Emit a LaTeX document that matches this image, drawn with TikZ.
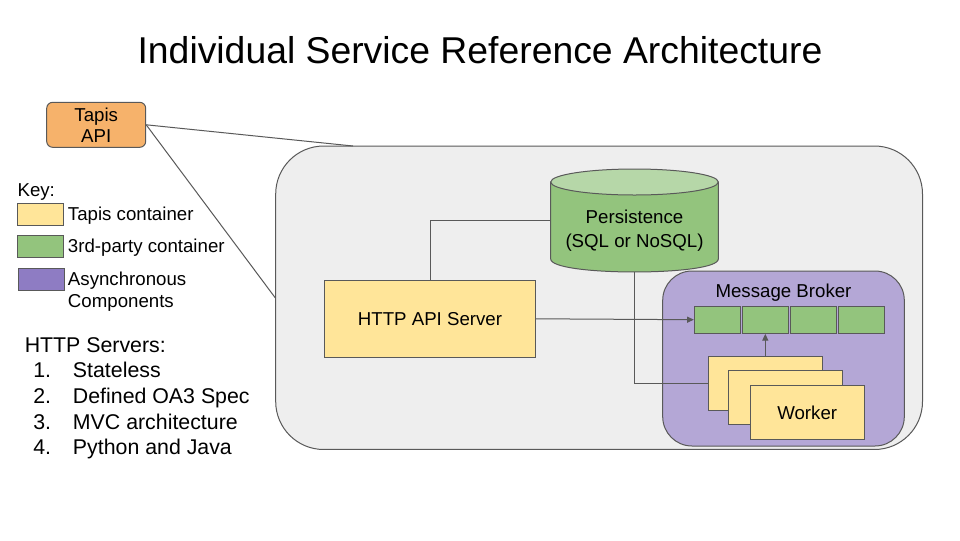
\documentclass[tikz,border=0pt]{standalone}
\usepackage{fontspec}
\setmainfont{Liberation Sans}
\usetikzlibrary{arrows.meta}
\definecolor{linegray}{HTML}{595959}
\definecolor{ctrgray}{HTML}{EEEEEE}
\definecolor{tapisorange}{HTML}{F6B26B}
\definecolor{tapisyellow}{HTML}{FFE599}
\definecolor{thirdgreen}{HTML}{93C47D}
\definecolor{topgreen}{HTML}{B6D7A8}
\definecolor{brokerlav}{HTML}{B4A7D6}
\definecolor{keypurple}{HTML}{8E7CC3}
\begin{document}
\begin{tikzpicture}[x=0.75pt,y=-0.75pt,
  box/.style={draw=linegray, line width=0.75pt, inner sep=0pt, font=\fontsize{14}{16}\selectfont},
  conn/.style={draw=linegray, line width=0.75pt},
  arr/.style={conn, -{Triangle[length=5pt,width=4.5pt]}},
  txt/.style={inner sep=0pt, font=\fontsize{14}{16}\selectfont},
  big/.style={inner sep=0pt, font=\fontsize{16}{19}\selectfont},
  cell/.style={box, fill=thirdgreen, minimum width=34.5pt, minimum height=20.5pt},
  worker/.style={box, fill=tapisyellow, minimum width=85.5pt, minimum height=40.1pt},
  swatch/.style={box, minimum width=34.8pt, minimum height=16.5pt}]
\useasboundingbox (0,0) rectangle (960,540);
\fill[white] (0,0) rectangle (960,540);

% title
\node[inner sep=0pt, anchor=base, font=\fontsize{28}{34}\selectfont] (title) at (480,63) {Individual Service Reference Architecture};

% big container
\node[box, fill=ctrgray, rounded corners=36pt, minimum width=485.1pt, minimum height=227.6pt] (ctr) at (599.1,297.75) {};

% Tapis API
\node[box, fill=tapisorange, rounded corners=4.5pt, minimum width=74.25pt, minimum height=33.75pt, align=center, font=\fontsize{14}{15.75}\selectfont] (tapis) at (96.2,124.8) {Tapis\\API};
\coordinate (z1) at (353,146);
\draw[conn] (tapis.east) -- (z1);
\draw[conn] (tapis.east) -- (ctr.west);

% Persistence cylinder
\node[inner sep=0pt, minimum width=125.7pt, minimum height=76.8pt] (pers) at (634.5,220.5) {};
\filldraw[conn, fill=thirdgreen] (550.7,182) -- (550.7,259) .. controls (550.7,276.3) and (718.3,276.3) .. (718.3,259) -- (718.3,182) -- cycle;
\filldraw[conn, fill=topgreen] (634.5,182) ellipse [x radius=62.85pt, y radius=9.75pt];
\node[txt, align=center, font=\fontsize{14}{18}\selectfont] (perslbl) at (634.5,230.5) {Persistence\\(SQL or NoSQL)};

% HTTP API server
\node[box, fill=tapisyellow, minimum width=158.55pt, minimum height=57.75pt] (http) at (430,318.8) {HTTP API Server};

% Message broker
\node[box, fill=brokerlav, rounded corners=22pt, minimum width=181.2pt, minimum height=131.25pt] (mb) at (783.5,358.5) {};
\node[txt, anchor=base] (mblbl) at (783.5,297.3) {Message Broker};
\node[cell] (c1) at (717.3,319.7) {};
\node[cell] (c2) at (765.3,319.7) {};
\node[cell] (c3) at (813.3,319.7) {};
\node[cell] (c4) at (861.3,319.7) {};

% workers
\node[worker] (w1) at (765.3,383.3) {};
\node[worker] (w2) at (785.3,397.5) {};
\node[worker] (w3) at (807.2,412.5) {Worker};

% connectors
\draw[conn] (http.north) |- (pers.west);
\draw[arr] (http.east) -- (c1.west);
\draw[arr] (w1.north) -- (c2.south);
\draw[conn] (pers.south) |- (w1.west);

% key
\node[txt, anchor=base west] (keylbl) at (17.3,196) {Key:};
\node[swatch, fill=tapisyellow] (k1) at (40.5,214.3) {};
\node[txt, anchor=base west] (k1lbl) at (67.7,220) {Tapis container};
\node[swatch, fill=thirdgreen] (k2) at (40.5,246.2) {};
\node[txt, anchor=base west] (k2lbl) at (67.7,252.3) {3rd-party container};
\node[swatch, fill=keypurple] (k3) at (41.3,279.3) {};
\node[txt, anchor=west, align=left, font=\fontsize{14}{16.7}\selectfont] (k3lbl) at (67.7,291.4) {Asynchronous\\Components};

% HTTP servers list
\node[big, anchor=base west] (hs) at (24.5,352.6) {HTTP Servers:};
\node[big, anchor=base west] (n1) at (33,377.2) {1.};
\node[big, anchor=base west] (i1) at (72.7,377.2) {Stateless};
\node[big, anchor=base west] (n2) at (33,403.3) {2.};
\node[big, anchor=base west] (i2) at (72.7,403.3) {Defined OA3 Spec};
\node[big, anchor=base west] (n3) at (33,429.1) {3.};
\node[big, anchor=base west] (i3) at (72.7,429.1) {MVC architecture};
\node[big, anchor=base west] (n4) at (33,454.8) {4.};
\node[big, anchor=base west] (i4) at (72.7,454.8) {Python and Java};
\end{tikzpicture}
\end{document}
